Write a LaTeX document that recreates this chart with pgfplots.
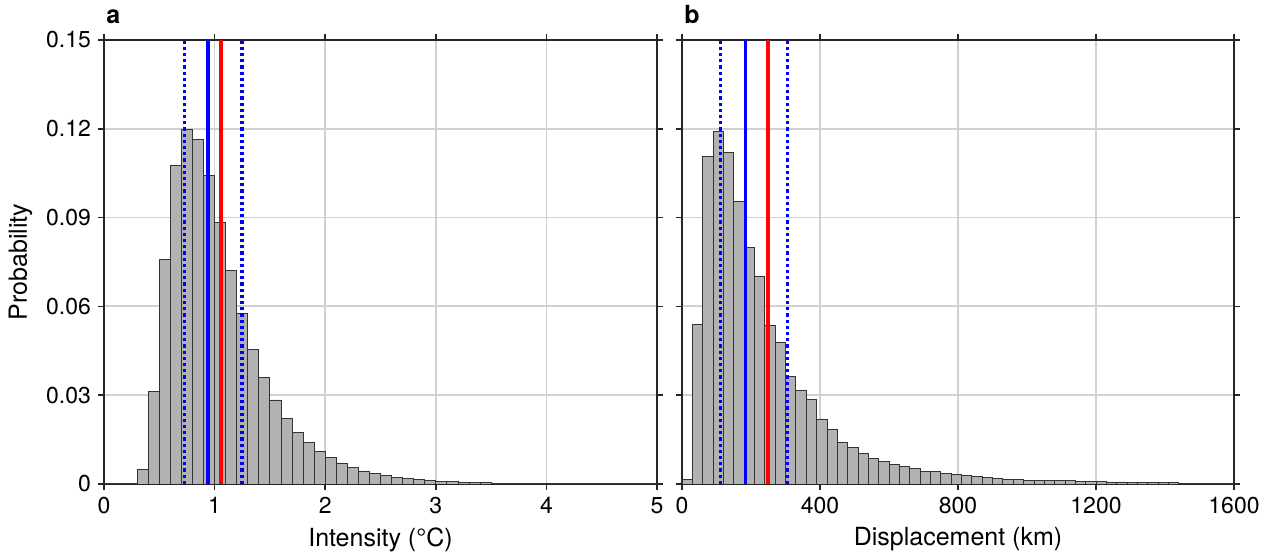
\documentclass[border=0pt]{standalone}
\usepackage{fontspec}
\setmainfont{TeX Gyre Heros}
\usepackage{pgfplots}
\pgfplotsset{compat=1.18}

\pgfplotsset{
  histo/.style={
    scale only axis,
    ymin=0, ymax=0.15,
    ytick={0,0.03,0.06,0.09,0.12,0.15},
    yticklabels={0,0.03,0.06,0.09,0.12,0.15},
    tick align=outside,
    major tick length=3pt,
    grid=major,
    major grid style={black!18, line width=0.9pt},
    axis line style={black!85, line width=0.8pt},
    every tick/.style={black!85, line width=0.8pt},
    tick label style={font=\fontsize{11.5}{13}\selectfont},
    label style={font=\fontsize{12.5}{14}\selectfont},
    /pgf/number format/assume math mode=true,
    /pgf/number format/1000 sep={},
    clip mode=individual,
  },
  bars/.style={ybar interval, fill=black!30, draw=black!80, line width=0.4pt},
  ci/.style={blue, line width=1.6pt, dash pattern=on 1.6pt off 1.5pt},
  mean/.style={blue, line width=1.9pt},
  obs/.style={red, line width=1.9pt},
}

\begin{document}
\begin{tikzpicture}
% panel a: intensity
\begin{axis}[histo,
  width=276.5pt, height=222pt,
  xmin=0, xmax=5,
  xtick={0,1,2,3,4,5},
  xlabel={Intensity (°C)},
  ylabel={Probability},
]
\addplot[bars] coordinates {
(0.0,0) (0.1,0.0001) (0.2,0.0002) (0.3,0.0050) (0.4,0.0313)
(0.5,0.0758) (0.6,0.1075) (0.7,0.1198) (0.8,0.1165) (0.9,0.1042)
(1.0,0.0883) (1.1,0.0721) (1.2,0.0575) (1.3,0.0456) (1.4,0.0359)
(1.5,0.0284) (1.6,0.0222) (1.7,0.0175) (1.8,0.0139) (1.9,0.0111)
(2.0,0.0089) (2.1,0.0071) (2.2,0.0055) (2.3,0.0044) (2.4,0.0035)
(2.5,0.0028) (2.6,0.0023) (2.7,0.0019) (2.8,0.0015) (2.9,0.0012)
(3.0,0.0010) (3.1,0.0008) (3.2,0.0006) (3.3,0.0005) (3.4,0.0004)
(3.5,0.0003) (3.6,0.0003) (3.7,0.0002) (3.8,0.0002) (3.9,0.0001)
(4.0,0.0001) (4.1,0) (4.2,0) (4.3,0) (4.4,0) (4.5,0) (4.6,0)
(4.7,0) (4.8,0) (4.9,0) (5.0,0)
};
\addplot[ci] coordinates {(0.726,0) (0.726,0.15)};
\addplot[ci] coordinates {(1.248,0) (1.248,0.15)};
\addplot[mean] coordinates {(0.937,0) (0.937,0.15)};
\addplot[obs] coordinates {(1.055,0) (1.055,0.15)};
\node[anchor=base west, font=\bfseries\fontsize{12.5}{14}\selectfont, inner sep=0pt]
  at (rel axis cs:0,1) [xshift=1pt, yshift=8pt] {a};
\end{axis}

% panel b: displacement
\begin{axis}[histo,
  at={(289pt,0pt)},
  width=276pt, height=222pt,
  xmin=0, xmax=1600,
  xtick={0,400,800,1200,1600},
  xlabel={Displacement (km)},
  yticklabels={},
]
\addplot[bars] coordinates {
(0,0.0014) (30,0.0540) (60,0.1106) (90,0.1191) (120,0.1119)
(150,0.0954) (180,0.0800) (210,0.0703) (240,0.0537) (270,0.0480)
(300,0.0364) (330,0.0315) (360,0.0286) (390,0.0218) (420,0.0185)
(450,0.0141) (480,0.0122) (510,0.0104) (540,0.0087) (570,0.0077)
(600,0.0067) (630,0.0058) (660,0.0051) (690,0.0043) (720,0.0041)
(750,0.0036) (780,0.0032) (810,0.0028) (840,0.0025) (870,0.0021)
(900,0.0019) (930,0.0017) (960,0.0015) (990,0.0013) (1020,0.0012)
(1050,0.0012) (1080,0.0011) (1110,0.0013) (1140,0.0010) (1170,0.0009)
(1200,0.0008) (1230,0.0007) (1260,0.0007) (1290,0.0006) (1320,0.0005)
(1350,0.0005) (1380,0.0004) (1410,0.0004) (1440,0.0003) (1470,0.0003)
(1500,0.0003) (1530,0.0002) (1560,0.0002) (1590,0.0002) (1620,0)
};
\addplot[ci] coordinates {(112,0) (112,0.15)};
\addplot[ci] coordinates {(306,0) (306,0.15)};
\addplot[mean] coordinates {(184,0) (184,0.15)};
\addplot[obs] coordinates {(250,0) (250,0.15)};
\node[anchor=base west, font=\bfseries\fontsize{12.5}{14}\selectfont, inner sep=0pt]
  at (rel axis cs:0,1) [xshift=1pt, yshift=8pt] {b};
\end{axis}

\pgfresetboundingbox
\useasboundingbox (-52pt,-35.5pt) rectangle (584.5pt,242pt);
\end{tikzpicture}
\end{document}
